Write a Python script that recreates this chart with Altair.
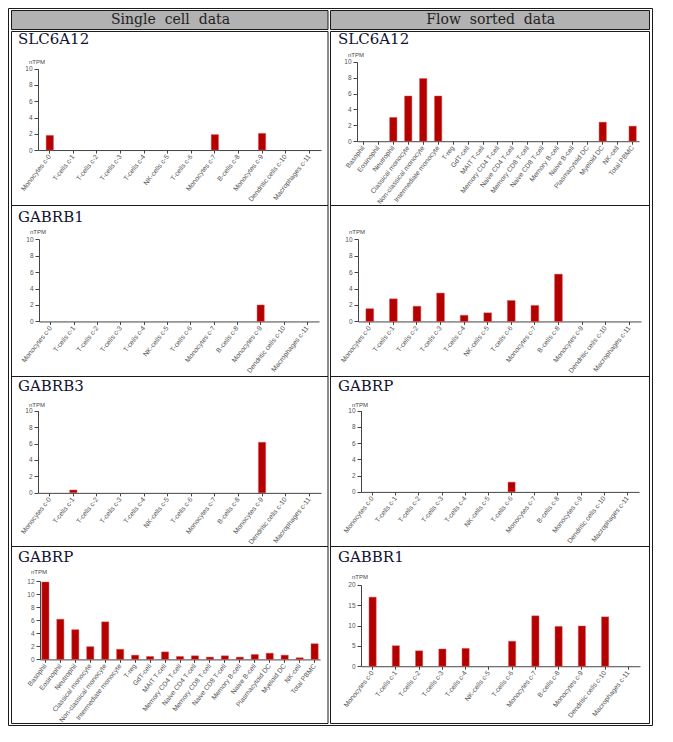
import altair as alt
import pandas as pd

# ---------------- data ----------------
clusters = ["Monocytes c-0", "T-cells c-1", "T-cells c-2", "T-cells c-3", "T-cells c-4",
            "NK-cells c-5", "T-cells c-6", "Monocytes c-7", "B-cells c-8", "Monocytes c-9",
            "Dendritic cells c-10", "Macrophages c-11"]
blood_types = ["Basophil", "Eosinophil", "Neutrophil", "Classical monocyte",
               "Non-classical monocyte", "Intermediate monocyte", "T-reg", "GdT-cell",
               "MAIT T-cell", "Memory CD4 T-cell", "Naive CD4 T-cell", "Memory CD8 T-cell",
               "Naive CD8 T-cell", "Memory B-cell", "Naive B-cell", "Plasmacytoid DC",
               "Myeloid DC", "NK-cell", "Total PBMC"]

sc_slc6a12 = [1.8, 0, 0, 0, 0, 0, 0, 1.9, 0, 2.05, 0, 0]
fs_slc6a12 = [0, 0, 3.0, 5.7, 7.9, 5.7, 0, 0, 0, 0, 0, 0, 0, 0, 0, 0, 2.4, 0, 1.9]
sc_gabrb1 = [0, 0, 0, 0, 0, 0, 0, 0, 0, 2.0, 0, 0]
fs_row2 = [1.55, 2.75, 1.85, 3.45, 0.75, 1.05, 2.55, 1.95, 5.75, 0, 0, 0]
sc_gabrb3 = [0, 0.35, 0, 0, 0, 0, 0, 0, 0, 6.15, 0, 0]
fs_gabrp = [0, 0, 0, 0, 0, 0, 1.2, 0, 0, 0, 0, 0]
sc_gabrp = [11.85, 6.15, 4.55, 1.95, 5.75, 1.55, 0.65, 0.45, 1.15, 0.45, 0.55, 0.35,
            0.55, 0.35, 0.75, 0.95, 0.65, 0.25, 2.4]
fs_gabbr1 = [17.0, 5.05, 3.8, 4.25, 4.4, 0, 6.15, 12.4, 9.8, 9.9, 12.15, 0]

ticks_10 = [0, 2, 4, 6, 8, 10]
ticks_12 = [0, 2, 4, 6, 8, 10, 12]
ticks_20 = [0, 5, 10, 15, 20]

header_left = "Single\u00a0 cell\u00a0 data"
header_right = "Flow\u00a0 sorted\u00a0 data"

# ---------------- layout (reference page coordinates) ----------------
W, H = 646, 720
K = 718 / 733


def X(x):
    return x - 7


def Y(y):
    return (y - 2) * K


def Yl(y):
    return round(Y(y) - 0.5) + 0.5


BAR = "#b50000"
BAR_EDGE = "#d85a5a"
LINE = "#1a1a1a"
AXIS = "#444444"
LABEL = "#555555"

panels = [
    # title, cats, vals, ymax, ticks, axis_x, right_x, y_top, y_zero, padInner, padOuter, title_x, title_y, ntpm_y
    ("SLC6A12", clusters, sc_slc6a12, 10, ticks_10, 37, 320, 64, 147, 0.69, 0.345, 17, 39, 57),
    ("SLC6A12", blood_types, fs_slc6a12, 10, ticks_10, 356, 638, 57, 138, 0.51, 0.18, 337, 39, 50),
    ("GABRB1", clusters, sc_gabrb1, 10, ticks_10, 38, 318, 238, 322, 0.69, 0.345, 17, 220, 231),
    ("", clusters, fs_row2, 10, ticks_10, 357, 640, 238, 322, 0.67, 0.335, 337, 220, 231),
    ("GABRB3", clusters, sc_gabrb3, 10, ticks_10, 37, 320, 413, 497, 0.69, 0.345, 17, 393, 407),
    ("GABRP", clusters, fs_gabrp, 10, ticks_10, 360, 638, 413, 496, 0.69, 0.345, 337, 393, 407),
    ("GABRP", blood_types, sc_gabrp, 12, ticks_12, 39, 319, 587, 667, 0.52, 0.12, 17, 568, 578),
    ("GABBR1", clusters, fs_gabbr1, 20, ticks_20, 360, 639, 591, 674, 0.69, 0.345, 337, 568, 583),
]

one = pd.DataFrame({"k": [0]})
layers = []


def box(x1, x2, y1, y2, fill="white", fill_op=0.0):
    return alt.Chart(one).mark_rect(fill=fill, fillOpacity=fill_op, stroke=LINE, strokeWidth=1).encode(
        x=alt.value(X(x1)), x2=alt.value(X(x2)), y=alt.value(Yl(y1)), y2=alt.value(Yl(y2)))


def hline(x1, x2, y):
    return alt.Chart(one).mark_rule(color=LINE, strokeWidth=1).encode(
        x=alt.value(X(x1)), x2=alt.value(X(x2)), y=alt.value(Yl(y)))


# table frame
layers.append(box(7.5, 651.5, 2.5, 734.5))
layers.append(box(10.5, 327, 4.5, 23.5, fill="#b2b2b2", fill_op=1.0))
layers.append(box(329.5, 648.5, 4.5, 23.5, fill="#b2b2b2", fill_op=1.0))
layers.append(box(10.5, 327, 25.5, 732.5))
layers.append(box(329.5, 648.5, 25.5, 732.5))
for yy in (204, 378, 552):
    layers.append(hline(10.5, 327, yy))
    layers.append(hline(329.5, 648.5, yy))

# header texts
for txt, cx in ((header_left, 169.5), (header_right, 489.7)):
    layers.append(alt.Chart(one).mark_text(text=txt, font="DejaVu Serif", fontSize=14, color="#222222",
                                           align="center", baseline="alphabetic").encode(
        x=alt.value(X(cx)), y=alt.value(Y(18.7))))

for (title, cats, vals, ymax, ticks, ax, rx, ytop, y0, pin, pout, tx, ty, ny) in panels:
    if title:
        layers.append(alt.Chart(one).mark_text(text=title, font="DejaVu Serif", fontSize=15, color="#121230",
                                               align="left", baseline="alphabetic").encode(
            x=alt.value(X(tx)), y=alt.value(Y(ty))))
    layers.append(alt.Chart(one).mark_text(text="nTPM", font="Liberation Sans", fontSize=6, color="#444444",
                                           align="center", baseline="middle").encode(
        x=alt.value(X(ax) - 1), y=alt.value(Y(ny))))
    df = pd.DataFrame({"cat": cats, "v": vals})
    layers.append(
        alt.Chart(df).transform_filter("datum.v > 0").mark_bar(
            color=BAR, stroke=BAR_EDGE, strokeWidth=0.6, strokeOpacity=0.8
        ).encode(
            x=alt.X("cat:N", sort=cats,
                    scale=alt.Scale(domain=cats, range=[X(ax), X(rx)], paddingInner=pin, paddingOuter=pout),
                    axis=alt.Axis(orient="bottom", offset=Y(y0) - H, title=None, labelAngle=-52,
                                  labelFont="Liberation Sans", labelFontSize=6.8, labelColor=LABEL,
                                  labelOverlap=False, labelPadding=2, tickSize=3, tickColor=AXIS,
                                  domainColor=AXIS, grid=False, labelLimit=300)),
            y=alt.Y("v:Q",
                    scale=alt.Scale(domain=[0, ymax], range=[Y(y0), Y(ytop)], nice=False, zero=True),
                    axis=alt.Axis(orient="left", offset=-X(ax), title=None, values=ticks,
                                  labelFont="Liberation Sans", labelFontSize=6.5, labelColor=LABEL,
                                  labelPadding=2, tickSize=4, tickColor=AXIS, domainColor=AXIS,
                                  grid=False, labelOverlap=False)),
        )
    )

chart = alt.layer(*layers).resolve_scale(x="independent", y="independent").resolve_axis(
    x="independent", y="independent"
).properties(
    width=W, height=H, autosize=alt.AutoSizeParams(type="none"), padding=0
).configure_view(strokeWidth=0)

chart.save("out.html", embed_options={"renderer": "svg", "actions": False})
